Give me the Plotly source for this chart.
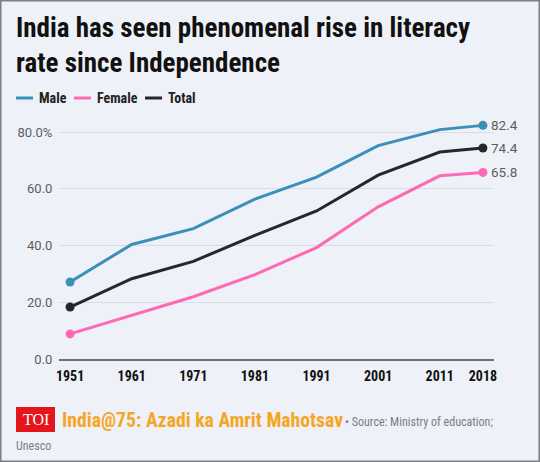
import plotly.graph_objects as go

years = [1951, 1961, 1971, 1981, 1991, 2001, 2011, 2018]
year_labels = ["1951", "1961", "1971", "1981", "1991", "2001", "2011", "2018"]
male = [27.16, 40.40, 45.96, 56.38, 64.13, 75.26, 80.9, 82.4]
female = [8.86, 15.35, 21.97, 29.76, 39.29, 53.67, 64.6, 65.8]
total = [18.33, 28.30, 34.45, 43.57, 52.21, 64.83, 73.0, 74.4]
series_names = ["Male", "Female", "Total"]
y_ticks = [0, 20, 40, 60, 80]
y_tick_labels = ["0.0", "20.0", "40.0", "60.0", "80.0%"]

colors = {"Male": "#3b8fb8", "Female": "#ff69b4", "Total": "#25272b"}
data = {"Male": male, "Female": female, "Total": total}

BG = "#eef1f8"
NARROW = "Liberation Sans Narrow, Roboto Condensed, Arial Narrow, Roboto, sans-serif"

W, H = 540, 462

def px(x):
    return x / W

def py(y):
    return 1 - y / H

fig = go.Figure()
for name in series_names:
    vals = data[name]
    fig.add_trace(go.Scatter(
        x=years, y=vals, mode="lines", name=name,
        line=dict(color=colors[name], width=3), showlegend=False,
        hoverinfo="skip"))
    fig.add_trace(go.Scatter(
        x=[years[0], years[-1]], y=[vals[0], vals[-1]], mode="markers",
        marker=dict(color=colors[name], size=9), showlegend=False,
        hoverinfo="skip"))
    fig.add_annotation(x=years[-1], y=vals[-1], text=f"{vals[-1]:.1f}",
                       xanchor="left", yanchor="middle", xshift=6, showarrow=False,
                       font=dict(family="Roboto, sans-serif", size=13.5, color="#5b5e66"))

# title
fig.add_annotation(xref="paper", yref="paper", x=px(14), y=py(10), xanchor="left", yanchor="top",
                   align="left", showarrow=False,
                   text="<b>India has seen phenomenal rise in literacy<br>rate since Independence</b>",
                   font=dict(family=NARROW, size=27, color="#111111"))

# legend (manual)
leg_x = [16, 74, 145]
for name, lx in zip(series_names, leg_x):
    fig.add_shape(type="line", xref="paper", yref="paper",
                  x0=px(lx), x1=px(lx + 17), y0=py(98), y1=py(98),
                  line=dict(color=colors[name], width=3))
    fig.add_annotation(xref="paper", yref="paper", x=px(lx + 21), y=py(98),
                       xanchor="left", yanchor="middle", showarrow=False,
                       text=f"<b>{name}</b>",
                       font=dict(family=NARROW, size=14, color="#222222"))

# footer
fig.add_shape(type="rect", xref="paper", yref="paper", x0=px(16), x1=px(55),
              y0=py(432), y1=py(407), fillcolor="#e3161e", line=dict(width=0))
fig.add_annotation(xref="paper", yref="paper", x=px(35.5), y=py(419.5), xanchor="center",
                   yanchor="middle", showarrow=False, text="TOI",
                   font=dict(family="Liberation Serif, serif", size=16, color="white"))
fig.add_annotation(xref="paper", yref="paper", x=px(60), y=py(420), xanchor="left",
                   yanchor="middle", showarrow=False,
                   text="<b>India@75: Azadi ka Amrit Mahotsav</b>",
                   font=dict(family=NARROW, size=19.7, color="#f5a623"))
fig.add_annotation(xref="paper", yref="paper", x=px(343), y=py(422), xanchor="left",
                   yanchor="middle", showarrow=False,
                   text="• Source: Ministry of education;",
                   font=dict(family=NARROW, size=12, color="#7a7d85"))
fig.add_annotation(xref="paper", yref="paper", x=px(14), y=py(446), xanchor="left",
                   yanchor="middle", showarrow=False, text="Unesco",
                   font=dict(family=NARROW, size=12, color="#7a7d85"))

# frame border
fig.add_shape(type="rect", xref="paper", yref="paper", x0=0, x1=1,
              y0=0, y1=1, line=dict(color="#7d7f84", width=3), layer="above")

fig.update_layout(
    width=W, height=H, margin=dict(l=0, r=0, t=0, b=0),
    paper_bgcolor=BG, plot_bgcolor=BG, showlegend=False,
    xaxis=dict(domain=[px(59), px(494)], range=[1949.2, 2019.8],
               tickvals=years, ticktext=[f"<b>{t}</b>" for t in year_labels],
               showgrid=False, zeroline=False, showline=True, linecolor="#6e7079",
               linewidth=2, ticks="outside", ticklen=3, tickcolor="rgba(0,0,0,0)",
               tickfont=dict(family=NARROW, size=14, color="#111111"),
               automargin=False, fixedrange=True),
    yaxis=dict(domain=[103 / H, 1 - 118 / H], range=[0, 85],
               tickvals=y_ticks, ticktext=y_tick_labels,
               showgrid=True, gridcolor="#d9dce4", gridwidth=1, zeroline=False,
               ticks="outside", ticklen=3, tickcolor="rgba(0,0,0,0)",
               tickfont=dict(family="Roboto, sans-serif", size=13, color="#5b5e66"),
               automargin=False, fixedrange=True),
)

fig.write_html("out.html", config={"displayModeBar": False},
               post_script="document.body.style.margin='0';")
